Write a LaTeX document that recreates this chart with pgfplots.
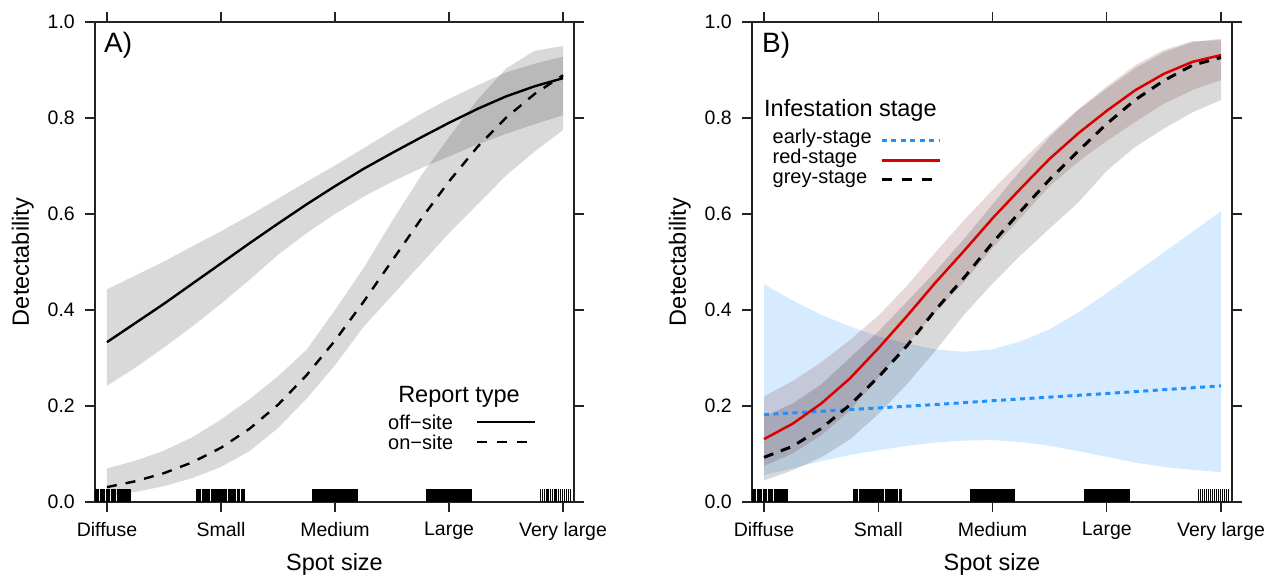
\documentclass[border=0pt]{standalone}
\usepackage{fontspec}
\setmainfont{Liberation Sans}
\usepackage{pgfplots}
\usepackage{pgfplotstable}
\pgfplotsset{compat=1.18}
\usepgfplotslibrary{fillbetween}

\definecolor{dodger}{RGB}{30,144,255}
\definecolor{redline}{RGB}{218,0,0}
\definecolor{redband}{RGB}{95,0,0}
\definecolor{axcol}{RGB}{35,35,35}
\newcommand\fs[1]{\fontsize{#1pt}{#1pt}\selectfont}

% Panel A: off-site (c,l,u) and on-site (c,l,u)
\pgfplotstableread{
x    offc  offl  offu  onc    onl   onu
0    0.333 0.242 0.443 0.031  0.012 0.070
0.25 0.373 0.280 0.472 0.0433 0.021 0.086
0.5  0.413 0.322 0.501 0.0601 0.033 0.107
0.75 0.455 0.366 0.533 0.0828 0.050 0.135
1    0.497 0.413 0.564 0.113  0.073 0.172
1.25 0.539 0.463 0.597 0.1525 0.106 0.214
1.5  0.580 0.515 0.632 0.2026 0.154 0.262
1.75 0.620 0.560 0.667 0.264  0.215 0.317
2    0.658 0.600 0.701 0.3363 0.285 0.400
2.25 0.694 0.636 0.737 0.417  0.365 0.487
2.5  0.727 0.667 0.773 0.5025 0.430 0.585
2.75 0.759 0.695 0.808 0.588  0.495 0.678
3    0.790 0.720 0.840 0.668  0.560 0.760
3.25 0.819 0.745 0.868 0.740  0.620 0.838
3.5  0.845 0.767 0.895 0.8006 0.680 0.903
3.75 0.866 0.787 0.913 0.850  0.730 0.940
4    0.883 0.806 0.928 0.889  0.775 0.950
}\tabA

% Panel B: early (e), red (r), grey (g) stage: centre, lower, upper
\pgfplotstableread{
x    ec     el    eu     rc    rl    ru    gc    gl     gu
0    0.182  0.056 0.4535 0.131 0.075 0.220 0.093 0.045  0.178
0.25 0.1855 0.070 0.420  0.163 0.101 0.252 0.116 0.066  0.205
0.5  0.189  0.085 0.390  0.205 0.139 0.291 0.153 0.093  0.245
0.75 0.1925 0.098 0.366  0.257 0.190 0.337 0.202 0.130  0.300
1    0.196  0.108 0.345  0.320 0.259 0.388 0.260 0.183  0.355
1.25 0.1995 0.117 0.330  0.387 0.328 0.450 0.325 0.245  0.417
1.5  0.203  0.124 0.318  0.457 0.395 0.520 0.400 0.315  0.480
1.75 0.207  0.128 0.313  0.523 0.458 0.587 0.467 0.390  0.548
2    0.211  0.129 0.318  0.591 0.529 0.650 0.540 0.455  0.620
2.25 0.2148 0.125 0.335  0.654 0.593 0.710 0.607 0.515  0.692
2.5  0.2185 0.117 0.360  0.715 0.658 0.766 0.672 0.570  0.760
2.75 0.2223 0.106 0.395  0.768 0.709 0.818 0.731 0.624  0.8165
3    0.226  0.094 0.435  0.815 0.752 0.866 0.788 0.690  0.861
3.25 0.230  0.082 0.478  0.858 0.792 0.910 0.838 0.740  0.904
3.5  0.234  0.073 0.520  0.892 0.830 0.942 0.878 0.778  0.937
3.75 0.238  0.067 0.563  0.917 0.858 0.960 0.910 0.812  0.958
4    0.242  0.062 0.606  0.931 0.879 0.962 0.926 0.8375 0.965
}\tabB

\newcommand\rug{%
\addplot[ycomb, line width=1.9pt, black, forget plot] coordinates {
(-0.1,0.027) (-0.088,0.027) (-0.076,0.027) (-0.052,0.027) (-0.04,0.027)
(-0.028,0.027) (-0.004,0.027) (0.008,0.027) (0.02,0.027) (0.044,0.027)
(0.056,0.027) (0.068,0.027) (0.092,0.027) (0.104,0.027) (0.116,0.027)
(0.128,0.027) (0.152,0.027) (0.164,0.027) (0.176,0.027) (0.188,0.027) (0.2,0.027)};
\addplot[ycomb, line width=1.9pt, black, forget plot] coordinates {
(0.79,0.027) (0.802,0.027) (0.814,0.027) (0.838,0.027) (0.85,0.027)
(0.862,0.027) (0.874,0.027) (0.886,0.027) (0.898,0.027) (0.922,0.027)
(0.934,0.027) (0.946,0.027) (0.958,0.027) (0.97,0.027) (0.982,0.027)
(0.994,0.027) (1.006,0.027) (1.018,0.027) (1.03,0.027) (1.042,0.027)
(1.066,0.027) (1.078,0.027) (1.09,0.027) (1.102,0.027) (1.114,0.027)
(1.126,0.027) (1.15,0.027) (1.162,0.027) (1.186,0.027) (1.198,0.027)};
\addplot[fill=black, draw=none, forget plot] coordinates {(1.8,0) (1.8,0.027) (2.2,0.027) (2.2,0)};
\addplot[fill=black, draw=none, forget plot] coordinates {(2.8,0) (2.8,0.027) (3.2,0.027) (3.2,0)};
\addplot[ycomb, line width=1.3pt, black, forget plot] coordinates {
(3.805,0.027) (3.822,0.027) (3.84,0.027) (3.858,0.027) (3.872,0.027)
(3.89,0.027) (3.91,0.027) (3.928,0.027) (3.945,0.027) (3.96,0.027)
(3.978,0.027) (3.995,0.027) (4.012,0.027) (4.03,0.027) (4.048,0.027) (4.065,0.027)};
}

\pgfplotsset{
  panel/.style={
    scale only axis, width=#1, height=480pt, anchor=south west,
    xmin=-0.105, xmax=4.096, ymin=0, ymax=1,
    xtick={0,1,2,3,4},
    xticklabels={Diffuse,Small,Medium,Large,Very large},
    ytick={0,0.2,0.4,0.6,0.8,1},
    tick align=outside, major tick length=10pt,
    tick style={line width=1.2pt, color=axcol},
    axis line style={line width=1.2pt, color=axcol},
    yticklabel style={font=\fs{19.5}, anchor=east, inner sep=0pt, xshift=-10pt,
      /pgf/number format/.cd, fixed, fixed zerofill, precision=1, assume math mode=true},
    xticklabel style={font=\fs{19.5}, anchor=north, inner sep=0pt, yshift=-10pt},
    xlabel={Spot size}, ylabel={Detectability},
    xlabel style={font=\fs{23.5}, at={(axis description cs:0.5,0)}, anchor=base, yshift=-68pt},
    ylabel style={font=\fs{23.5}, at={(axis description cs:-0.1378,0.5)}, anchor=base},
  }
}

\begin{document}
\begin{tikzpicture}[x=1pt,y=1pt]

% ---------------- Panel A ----------------
\begin{axis}[panel=479pt, at={(95pt,72pt)}]
\addplot[draw=none, name path=offu, forget plot] table[x=x,y=offu]{\tabA};
\addplot[draw=none, name path=offl, forget plot] table[x=x,y=offl]{\tabA};
\addplot[fill=black, fill opacity=0.15, draw=none, forget plot] fill between[of=offu and offl];
\addplot[draw=none, name path=onu, forget plot] table[x=x,y=onu]{\tabA};
\addplot[draw=none, name path=onl, forget plot] table[x=x,y=onl]{\tabA};
\addplot[fill=black, fill opacity=0.15, draw=none, forget plot] fill between[of=onu and onl];
\rug
\addplot[black, line width=2.4pt] table[x=x,y=offc]{\tabA};
\addplot[black, line width=2.4pt, dash pattern=on 10pt off 9pt] table[x=x,y=onc]{\tabA};
\end{axis}

% ---------------- Panel B ----------------
\begin{axis}[panel=480pt, at={(752pt,72pt)}]
\addplot[draw=none, name path=eu, forget plot] table[x=x,y=eu]{\tabB};
\addplot[draw=none, name path=el, forget plot] table[x=x,y=el]{\tabB};
\addplot[fill=dodger, fill opacity=0.18, draw=none, forget plot] fill between[of=eu and el];
\addplot[draw=none, name path=ru, forget plot] table[x=x,y=ru]{\tabB};
\addplot[draw=none, name path=rl, forget plot] table[x=x,y=rl]{\tabB};
\addplot[fill=redband, fill opacity=0.15, draw=none, forget plot] fill between[of=ru and rl];
\addplot[draw=none, name path=gu, forget plot] table[x=x,y=gu]{\tabB};
\addplot[draw=none, name path=gl, forget plot] table[x=x,y=gl]{\tabB};
\addplot[fill=black, fill opacity=0.15, draw=none, forget plot] fill between[of=gu and gl];
\rug
\addplot[dodger, line width=3pt, dash pattern=on 5pt off 4.5pt] table[x=x,y=ec]{\tabB};
\addplot[redline, line width=2.5pt] table[x=x,y=rc]{\tabB};
\addplot[black, line width=3pt, dash pattern=on 10pt off 8pt] table[x=x,y=gc]{\tabB};
\end{axis}

% panel labels
\node[anchor=base west, inner sep=0pt, font=\fs{28}] at (104,521) {A)};
\node[anchor=base west, inner sep=0pt, font=\fs{28}] at (762,521) {B)};

% legend A
\node[anchor=base, inner sep=0pt, font=\fs{23.5}] at (459,172) {Report type};
\node[anchor=base west, inner sep=0pt, font=\fs{20}] at (388,145) {off−site};
\node[anchor=base west, inner sep=0pt, font=\fs{20}] at (388,125) {on−site};
\draw[black, line width=2.4pt] (477,152) -- (535,152);
\draw[black, line width=2.4pt, dash pattern=on 10pt off 10pt] (477,132) -- (527,132);

% legend B
\node[anchor=base west, inner sep=0pt, font=\fs{23.5}] at (764,457) {Infestation stage};
\node[anchor=base west, inner sep=0pt, font=\fs{20}] at (772.5,430) {early-stage};
\node[anchor=base west, inner sep=0pt, font=\fs{20}] at (772.5,410) {red-stage};
\node[anchor=base west, inner sep=0pt, font=\fs{20}] at (772.5,390.5) {grey-stage};
\draw[dodger, line width=3pt, dash pattern=on 5pt off 4.5pt] (881.5,433.5) -- (939,433.5);
\draw[redline, line width=2.5pt] (881.5,413.5) -- (940,413.5);
\draw[black, line width=3pt, dash pattern=on 10pt off 10pt] (881.5,394.5) -- (937,394.5);

\pgfresetboundingbox
\path[use as bounding box] (0,0) rectangle (1268,574);
\end{tikzpicture}
\end{document}
